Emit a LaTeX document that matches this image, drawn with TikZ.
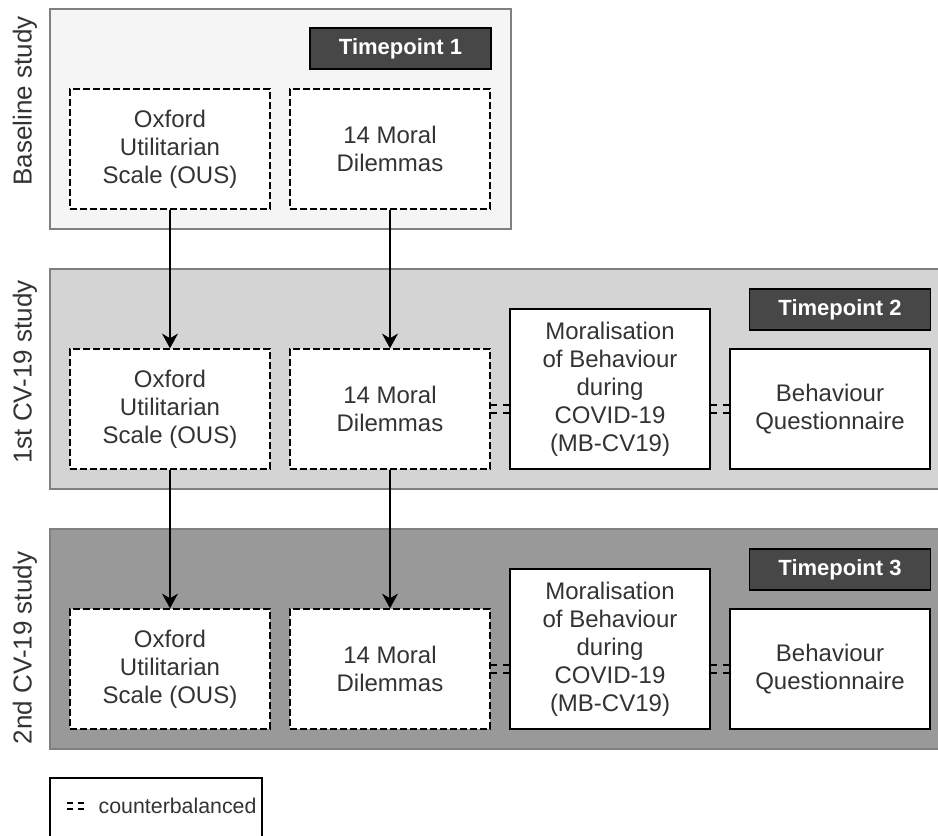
\documentclass[tikz,border=0pt]{standalone}
\usepackage{fontspec}
\setmainfont{Liberation Sans}
\usetikzlibrary{arrows.meta}

\definecolor{basefill}{HTML}{F5F5F5}
\definecolor{firstfill}{HTML}{D4D4D4}
\definecolor{secondfill}{HTML}{999999}
\definecolor{panelline}{HTML}{808080}
\definecolor{tpfill}{HTML}{474747}
\definecolor{txt}{HTML}{333333}

\begin{document}
\begin{tikzpicture}[x=0.75pt,y=-0.75pt,
  panel/.style={draw=panelline, line width=1.3pt, minimum height=165pt, inner sep=0pt},
  tpbox/.style={draw=black, line width=1.1pt, fill=tpfill, text=white, minimum width=135.75pt,
    minimum height=30.75pt, font=\fontsize{16.5}{19}\selectfont\bfseries},
  measure/.style={draw=black, line width=1.1pt, dash pattern=on 5pt off 2.5pt, fill=white,
    minimum width=150pt, minimum height=90pt, align=center, text=txt,
    font=\fontsize{18}{21}\selectfont},
  newmeasure/.style={measure, solid},
  sidelabel/.style={rotate=90, text=txt, font=\fontsize{19.5}{22}\selectfont},
  arrow/.style={line width=1.1pt, -{Stealth[length=11pt,width=12pt,inset=3.5pt]}},
  cb/.style={line width=1.1pt, dash pattern=on 4.5pt off 4pt, dash phase=-0.5pt}]
\useasboundingbox (0,0) rectangle (938,835);

% study panels
\node[panel, fill=basefill, minimum width=345.75pt] (panel1) at (280.5,119) {};
\node[panel, fill=firstfill, minimum width=675pt] (panel2) at (500,379) {};
\node[panel, fill=secondfill, minimum width=675pt] (panel3) at (500,639) {};

\node[sidelabel] (lab1) at (25,101) {Baseline study};
\node[sidelabel] (lab2) at (25,372) {1st CV-19 study};
\node[sidelabel] (lab3) at (25,648) {2nd CV-19 study};

\node[tpbox] (tp1) at (400.5,48.5) {Timepoint 1};
\node[tpbox] (tp2) at (840,309.5) {Timepoint 2};
\node[tpbox] (tp3) at (840,569.5) {Timepoint 3};

% timepoint 1
\node[measure] (ous1) at (170,149) {Oxford\\Utilitarian\\Scale (OUS)};
\node[measure] (dm1) at (390,149) {14 Moral\\Dilemmas};

% timepoint 2
\node[measure] (ous2) at (170,409) {Oxford\\Utilitarian\\Scale (OUS)};
\node[measure] (dm2) at (390,409) {14 Moral\\Dilemmas};
\node[newmeasure, minimum height=120pt] (mb2) at (610,389) {Moralisation\\of Behaviour\\during\\COVID-19\\(MB-CV19)};
\node[newmeasure] (bq2) at (830,409) {Behaviour\\Questionnaire};

% timepoint 3
\node[measure] (ous3) at (170,669) {Oxford\\Utilitarian\\Scale (OUS)};
\node[measure] (dm3) at (390,669) {14 Moral\\Dilemmas};
\node[newmeasure, minimum height=120pt] (mb3) at (610,649) {Moralisation\\of Behaviour\\during\\COVID-19\\(MB-CV19)};
\node[newmeasure] (bq3) at (830,669) {Behaviour\\Questionnaire};

\draw[arrow] (ous1.south) -- (ous2.north);
\draw[arrow] (dm1.south) -- (dm2.north);
\draw[arrow] (ous2.south) -- (ous3.north);
\draw[arrow] (dm2.south) -- (dm3.north);

\foreach \s in {-4,4} {
  \draw[cb] ([yshift=\s*0.75pt]dm2.east) -- ([yshift=\s*0.75pt]dm2.east -| mb2.west);
  \draw[cb] ([yshift=\s*0.75pt]bq2.west -| mb2.east) -- ([yshift=\s*0.75pt]bq2.west);
  \draw[cb] ([yshift=\s*0.75pt]dm3.east) -- ([yshift=\s*0.75pt]dm3.east -| mb3.west);
  \draw[cb] ([yshift=\s*0.75pt]bq3.west -| mb3.east) -- ([yshift=\s*0.75pt]bq3.west);
}

% legend
\node[draw=black, line width=1.1pt, fill=white, minimum width=159pt, minimum height=54pt] (legend) at (156,814) {};
\node[anchor=west, text=txt, font=\fontsize{16}{19}\selectfont] (cbtext) at (94,806) {counterbalanced};
\coordinate (cbleft) at (66,806);
\foreach \s in {-3,3}
  \draw[cb] ([yshift=\s*0.75pt]cbleft) -- ++(22,0);
\end{tikzpicture}
\end{document}
